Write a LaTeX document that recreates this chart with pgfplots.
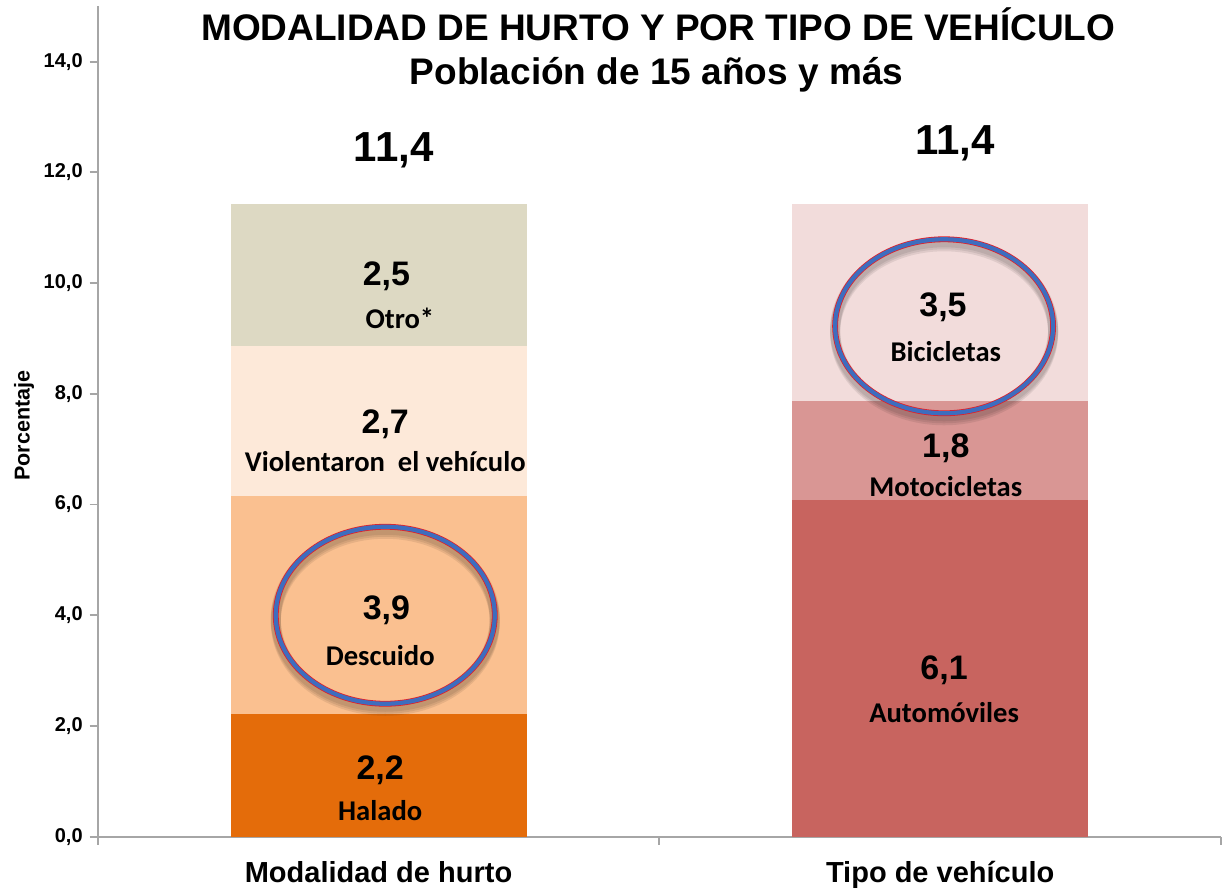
\documentclass[border=0pt]{standalone}
\usepackage{fontspec}
\setmainfont{Liberation Sans}
\newfontfamily\calibri{Carlito}
\usepackage{pgfplots}
\pgfplotsset{compat=1.18}
\definecolor{halado}{HTML}{E46C0A}
\definecolor{descuido}{HTML}{FAC090}
\definecolor{violent}{HTML}{FDE9D9}
\definecolor{otro}{HTML}{DDD9C3}
\definecolor{auto}{HTML}{C8645F}
\definecolor{moto}{HTML}{D99694}
\definecolor{bici}{HTML}{F2DCDB}
\definecolor{axisgray}{HTML}{A6A6A6}
\definecolor{ringblue}{HTML}{3E6DBE}
\definecolor{ringred}{HTML}{E0202A}
\tikzset{
  val/.style={font=\fontsize{17}{19}\selectfont\bfseries, anchor=center, inner sep=0pt},
  cat/.style={font=\calibri\fontsize{14.3}{16}\selectfont\bfseries, anchor=center, inner sep=0pt},
  tot/.style={font=\fontsize{21}{24}\selectfont\bfseries, anchor=center, inner sep=0pt},
  ttl/.style={font=\fontsize{18.5}{20}\selectfont\bfseries, anchor=base, inner sep=0pt},
  shadowring/.style={black, opacity=0.08, line width=5pt},
  redring/.style={ringred, line width=2.9pt},
  bluering/.style={ringblue, line width=2.1pt},
}
\begin{document}
\begin{tikzpicture}
\begin{axis}[
  scale only axis, width=561.65pt, height=415.2pt,
  xmin=0, xmax=2, ymin=0, ymax=15,
  axis x line=bottom, axis y line=left,
  axis line style={draw=axisgray, line width=0.9pt, -},
  ybar stacked, reverse stacked plots=false, bar width=0.527,
  ytick={0,2,...,14},
  tick align=outside,
  major tick length=4pt,
  tick style={draw=axisgray, line width=0.9pt},
  yticklabel style={font=\fontsize{10}{12}\selectfont\bfseries,
    /pgf/number format/fixed, /pgf/number format/fixed zerofill,
    /pgf/number format/precision=1, /pgf/number format/use comma,
    /pgf/number format/assume math mode=true},
  xtick={0,1,2}, xticklabels={},
  extra x ticks={0.5,1.5},
  extra x tick labels={Modalidad de hurto, Tipo de vehículo},
  extra x tick style={major tick length=0pt,
    xticklabel style={font=\fontsize{14.5}{16}\selectfont\bfseries, anchor=base, yshift=-23pt, inner sep=0pt}},
  ylabel={Porcentaje},
  ylabel style={font=\fontsize{10.75}{12}\selectfont\bfseries, at={([xshift=-36.85pt]axis description cs:0,0.495)}, anchor=center, inner sep=0pt},
  clip=false,
]
\addplot[fill=halado, draw=none] coordinates {(0.5,2.22) (1.5,0)};
\addplot[fill=descuido, draw=none] coordinates {(0.5,3.94) (1.5,0)};
\addplot[fill=violent, draw=none] coordinates {(0.5,2.71) (1.5,0)};
\addplot[fill=otro, draw=none] coordinates {(0.5,2.55) (1.5,0)};
\addplot[fill=auto, draw=none] coordinates {(0.5,0) (1.5,6.09)};
\addplot[fill=moto, draw=none] coordinates {(0.5,0) (1.5,1.78)};
\addplot[fill=bici, draw=none] coordinates {(0.5,0) (1.5,3.55)};

% anchor points for annotations
\coordinate (eL) at (axis cs:0.512,4.0);
\coordinate (eR) at (axis cs:1.507,9.22);
\coordinate (t1) at (axis cs:0.998,14.38);
\coordinate (t2) at (axis cs:0.995,13.58);
\coordinate (totL) at (axis cs:0.527,12.40);
\coordinate (totR) at (axis cs:1.526,12.53);
\coordinate (v1) at (axis cs:0.514,10.13);
\coordinate (c1) at (axis cs:0.538,9.37);
\coordinate (v2) at (axis cs:0.512,7.45);
\coordinate (c2) at (axis cs:0.512,6.77);
\coordinate (v3) at (axis cs:0.514,4.09);
\coordinate (c3) at (axis cs:0.503,3.27);
\coordinate (v4) at (axis cs:0.503,1.20);
\coordinate (c4) at (axis cs:0.503,0.48);
\coordinate (v5) at (axis cs:1.505,9.57);
\coordinate (c5) at (axis cs:1.510,8.76);
\coordinate (v6) at (axis cs:1.510,7.02);
\coordinate (c6) at (axis cs:1.510,6.33);
\coordinate (v7) at (axis cs:1.507,3.00);
\coordinate (c7) at (axis cs:1.507,2.24);
\end{axis}

% highlight rings
\foreach \s in {1.5pt,2.5pt,3.5pt}{
  \draw[shadowring] ([yshift=-\s]eL) ellipse [x radius=54.75pt, y radius=44.25pt];
  \draw[shadowring] ([yshift=-\s]eR) ellipse [x radius=54.5pt, y radius=43.5pt];
}
\draw[redring] (eL) ellipse [x radius=54.75pt, y radius=44.25pt];
\draw[bluering] (eL) ellipse [x radius=54.75pt, y radius=44.25pt];
\draw[redring] (eR) ellipse [x radius=54.5pt, y radius=43.5pt];
\draw[bluering] (eR) ellipse [x radius=54.5pt, y radius=43.5pt];

% titles
\node[ttl] at (t1) {MODALIDAD DE HURTO Y POR TIPO DE VEHÍCULO};
\node[ttl] at (t2) {Población de 15 años y más};

% totals
\node[tot] at (totL) {11,4};
\node[tot] at (totR) {11,4};

% left bar labels
\node[val] at (v1) {2,5};
\node[cat] at (c1) {Otro*};
\node[val] at (v2) {2,7};
\node[cat] at (c2) {Violentaron\ \ el vehículo};
\node[val] at (v3) {3,9};
\node[cat] at (c3) {Descuido};
\node[val] at (v4) {2,2};
\node[cat] at (c4) {Halado};

% right bar labels
\node[val] at (v5) {3,5};
\node[cat] at (c5) {Bicicletas};
\node[val] at (v6) {1,8};
\node[cat] at (c6) {Motocicletas};
\node[val] at (v7) {6,1};
\node[cat] at (c7) {Automóviles};

\pgfresetboundingbox
\path (current axis.south west) ++(-48.85pt,-26.15pt) rectangle ++(611.5pt,444.5pt);
\end{tikzpicture}
\end{document}
